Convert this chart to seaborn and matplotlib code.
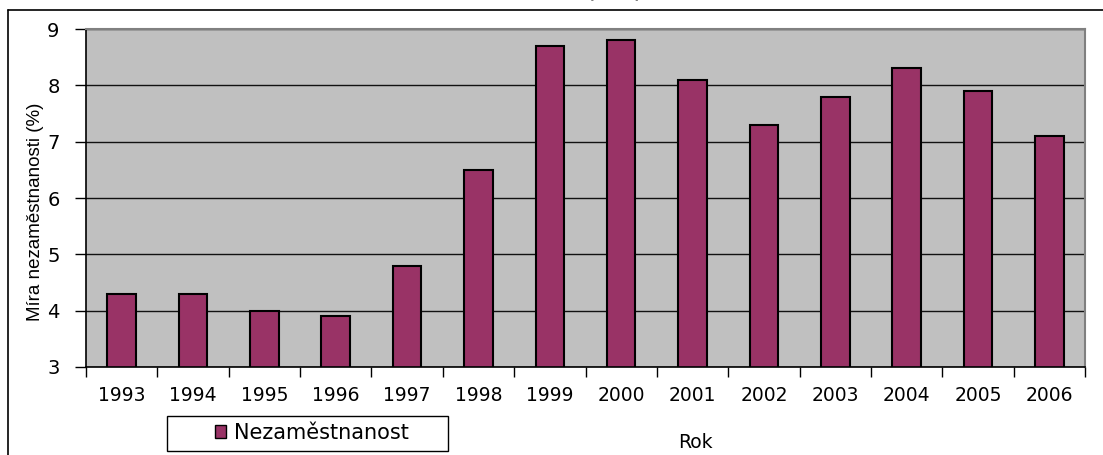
import matplotlib
matplotlib.use("Agg")
import matplotlib.pyplot as plt
from matplotlib.patches import Rectangle, Patch
from matplotlib.lines import Line2D
import seaborn as sns
import pandas as pd

# Unemployment rate by year
years = ["1993", "1994", "1995", "1996", "1997", "1998", "1999",
         "2000", "2001", "2002", "2003", "2004", "2005", "2006"]
unemployment = [4.3, 4.3, 4.0, 3.9, 4.8, 6.5, 8.7, 8.8, 8.1, 7.3, 7.8, 8.3, 7.9, 7.1]
y_ticks = [3, 4, 5, 6, 7, 8, 9]

series_name = "Nezaměstnanost"
x_label = "Rok"
y_label = "Míra nezaměstnanosti (%)"
title_text = "(ČR)"

df = pd.DataFrame({"Rok": years, "Hodnota": unemployment})

sns.set_theme(style="white")
plt.rcParams["font.family"] = ["DejaVu Sans"]

W, H = 1103, 455
fig = plt.figure(figsize=(W / 100, H / 100), dpi=100)
fig.patch.set_facecolor("white")

# outer chart frame (open to the right and bottom)
fig.add_artist(Line2D([8 / W, 8 / W], [1 - 10 / H, 0], transform=fig.transFigure,
                      color="black", lw=1.2))
fig.add_artist(Line2D([8 / W, 1], [1 - 10 / H, 1 - 10 / H], transform=fig.transFigure,
                      color="black", lw=1.2))

left, right, top, bottom = 86, 1085, 29, 367
ax = fig.add_axes([left / W, 1 - bottom / H, (right - left) / W, (bottom - top) / H])
ax.set_facecolor("#C0C0C0")

bar_color = "#993366"
sns.barplot(data=df, x="Rok", y="Hodnota", color=bar_color, width=0.4,
            edgecolor="black", linewidth=1.5, saturation=1, ax=ax)

ax.set_ylim(3, 9)
ax.set_xlim(-0.5, len(years) - 0.5)
ax.set_yticks(y_ticks)
ax.set_yticklabels([str(t) for t in y_ticks], fontsize=14)
ax.set_axisbelow(True)
ax.yaxis.grid(True, color="#111111", lw=1)
ax.xaxis.grid(False)

ax.set_xticks(range(len(years)))
ax.set_xticklabels(years, fontsize=13.5)
ax.set_xticks([i - 0.5 for i in range(len(years) + 1)], minor=True)
ax.tick_params(axis="x", which="major", length=0, pad=14, colors="black")
ax.tick_params(axis="x", which="minor", length=7, width=1, direction="out",
               color="black", bottom=True)
ax.tick_params(axis="y", length=8, width=1, direction="out", color="black",
               left=True, pad=11, colors="black")

for side in ("left", "bottom"):
    ax.spines[side].set_color("black")
    ax.spines[side].set_linewidth(1.2)
for side in ("top", "right"):
    ax.spines[side].set_color("#808080")
    ax.spines[side].set_linewidth(1.5)

ax.set_xlabel("")
ax.set_ylabel("")
fig.text(695 / W, 1 - 443 / H, x_label, ha="center", va="center", fontsize=13.5,
         color="black")
fig.text(35 / W, 1 - 212 / H, y_label, ha="center", va="center", rotation=90,
         fontsize=13.5, family=["Liberation Sans", "DejaVu Sans"], color="black")

# title sits above the frame; only the tails of the brackets reach into view
fig.text(615 / W, 1 + 3 / H, title_text, ha="center", va="baseline", fontsize=20,
         color="black")

# legend box
fig.add_artist(Rectangle((167 / W, 1 - 451 / H), (448 - 167) / W, (451 - 416) / H,
                         transform=fig.transFigure, facecolor="white",
                         edgecolor="black", lw=1))
handle = Patch(facecolor=bar_color, edgecolor="black", linewidth=1)
leg = fig.legend([handle], [series_name], loc="center",
                 bbox_to_anchor=(312 / W, 1 - 433 / H), frameon=False,
                 fontsize=15, handlelength=0.55, handleheight=0.55, handletextpad=0.4,
                 borderpad=0, borderaxespad=0)
for t in leg.get_texts():
    t.set_color("black")

fig.savefig("out.png", dpi=100)
